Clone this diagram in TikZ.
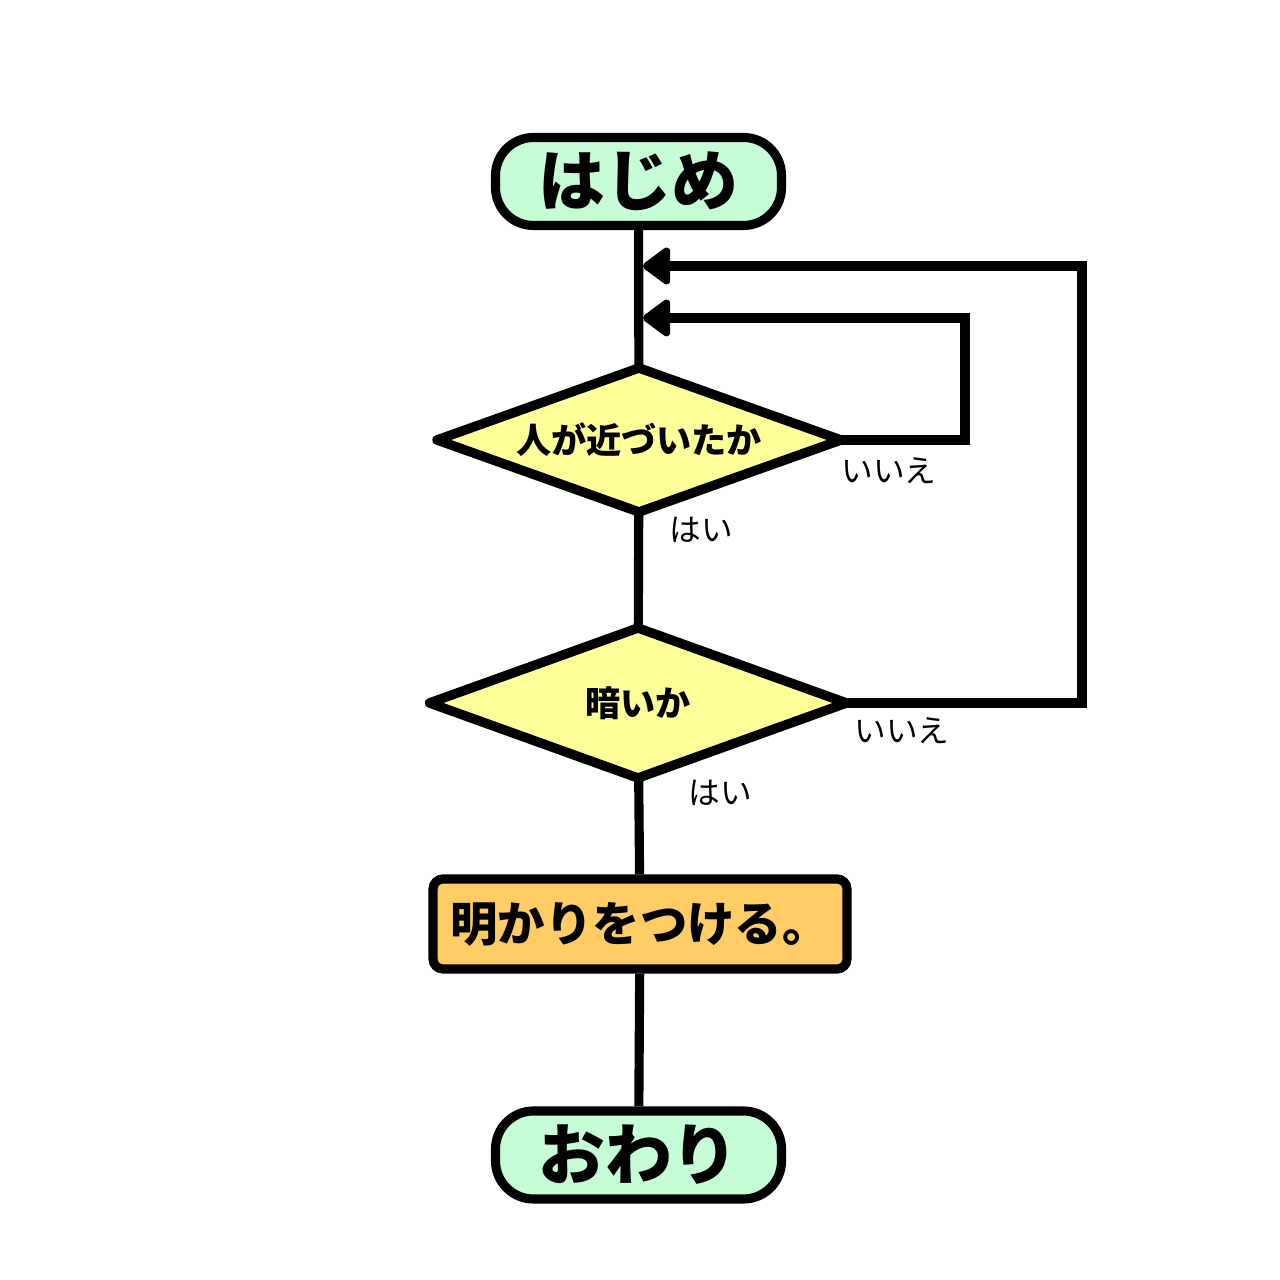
\documentclass[tikz,border=0pt]{standalone}
\usepackage{fontspec}
\newfontfamily\jpfont{Noto Sans CJK JP}
\usepackage{tikz}
\usetikzlibrary{shapes.geometric,arrows.meta}

\definecolor{termgreen}{RGB}{198,252,214}
\definecolor{askyellow}{RGB}{255,255,153}
\definecolor{doorange}{RGB}{255,204,102}

\tikzset{
  term/.style = {draw, line width=2.6pt, fill=termgreen, rounded corners=0.38cm,
    minimum width=2.86cm, minimum height=0.88cm, inner sep=0pt,
    font=\jpfont\bfseries\fontsize{19}{19}\selectfont},
  ask/.style = {draw, diamond, aspect=2.94, line width=2.7pt, line join=round,
    fill=askyellow, inner sep=0pt, outer sep=0pt,
    font=\jpfont\bfseries\fontsize{10}{10}\selectfont},
  dobox/.style = {draw, line width=2.6pt, fill=doorange, rounded corners=0.1cm,
    minimum width=4.14cm, minimum height=0.90cm, inner sep=0pt,
    font=\jpfont\bfseries\fontsize{13.5}{13.5}\selectfont},
  answer/.style = {inner sep=0pt, font=\jpfont\fontsize{9}{9}\selectfont},
  flow/.style = {line width=2.6pt},
  back/.style = {line width=2.6pt, -{Triangle[length=0.3cm,width=0.42cm,round]}}
}

\begin{document}
\begin{tikzpicture}
        \useasboundingbox (0,0) rectangle (12.8,12.8);

        \node [term] (start) at (6.385,10.985) {はじめ};
        \node [ask, minimum width=4.04cm, minimum height=1.44cm] (near) at (6.39,8.40) {人が近づいたか};
        \node [ask, minimum width=4.17cm, minimum height=1.50cm] (dark) at (6.38,5.77) {暗いか};
        \node [dobox] (light) at (6.40,3.56) {明かりをつける。};
        \node [term] (stop) at (6.385,1.25) {おわり};

        \draw [flow] (start) -- (near);
        \draw [flow] (near) -- (dark);
        \draw [flow] (dark) -- (light);
        \draw [flow] (light) -- (stop);

        \coordinate (in1) at (6.43,9.62);
        \coordinate (in2) at (6.43,10.14);

        \draw [back] (near.east) -| (9.65,9.62) -- (in1);
        \draw [back] (dark.east) -| (10.82,10.14) -- (in2);

        \node [answer] (no1) at (8.89,8.09) {いいえ};
        \node [answer] (yes1) at (7.01,7.50) {はい};
        \node [answer] (no2) at (9.02,5.49) {いいえ};
        \node [answer] (yes2) at (7.20,4.87) {はい};
    \end{tikzpicture}
\end{document}
